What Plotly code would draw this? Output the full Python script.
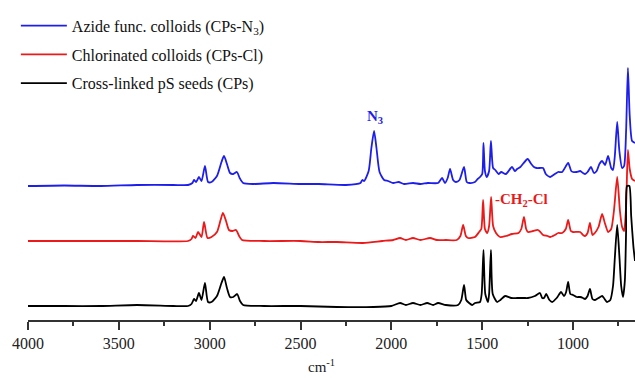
import plotly.graph_objects as go

# ---- data (wavenumber in cm^-1, absorbance in a.u. above own baseline)
blue_wn = [4000, 3800, 3600, 3400, 3200, 3119, 3095, 3086, 3075, 3059, 3045, 3026, 3009, 2990, 2960, 2935, 2921, 2905, 2888, 2870, 2850, 2835, 2816, 2760, 2650, 2500, 2400, 2250, 2170, 2160, 2150, 2125, 2110, 2095, 2082, 2065, 2040, 2018, 1990, 1960, 1930, 1880, 1840, 1800, 1743, 1721, 1705, 1690, 1677, 1660, 1645, 1625, 1600, 1585, 1570, 1540, 1525, 1512, 1500, 1493, 1485, 1475, 1462, 1452, 1440, 1428, 1410, 1395, 1370, 1336, 1320, 1308, 1290, 1250, 1230, 1215, 1200, 1182, 1165, 1150, 1126, 1100, 1082, 1060, 1027, 1010, 1000, 980, 961, 945, 934, 920, 901, 885, 870, 855, 840, 824, 807, 790, 780, 770, 757, 745, 730, 719, 708, 698, 688, 675, 659]
blue_ab = [0.00, 0.005, 0.0, 0.01, 0.01, 0.01, 0.03, 0.06, 0.04, 0.09, 0.05, 0.20, 0.04, 0.04, 0.10, 0.24, 0.30, 0.22, 0.13, 0.12, 0.14, 0.08, 0.03, 0.02, 0.03, 0.02, 0.02, 0.01, 0.03, 0.06, 0.05, 0.15, 0.38, 0.55, 0.38, 0.14, 0.06, 0.05, 0.03, 0.04, 0.02, 0.03, 0.02, 0.03, 0.03, 0.08, 0.03, 0.08, 0.17, 0.06, 0.04, 0.06, 0.19, 0.04, 0.03, 0.04, 0.07, 0.09, 0.12, 0.43, 0.15, 0.09, 0.15, 0.45, 0.18, 0.16, 0.12, 0.14, 0.12, 0.19, 0.15, 0.17, 0.19, 0.27, 0.22, 0.19, 0.18, 0.18, 0.18, 0.12, 0.09, 0.12, 0.14, 0.14, 0.23, 0.15, 0.14, 0.14, 0.15, 0.13, 0.12, 0.14, 0.19, 0.13, 0.15, 0.22, 0.25, 0.21, 0.30, 0.18, 0.16, 0.30, 0.64, 0.35, 0.18, 0.20, 0.55, 1.18, 0.70, 0.45, 0.43]

red_wn = [4000, 3700, 3400, 3119, 3100, 3092, 3078, 3064, 3045, 3031, 3012, 2990, 2960, 2940, 2927, 2910, 2894, 2875, 2855, 2838, 2822, 2700, 2500, 2400, 2300, 2156, 2050, 1990, 1952, 1920, 1881, 1840, 1787, 1750, 1700, 1640, 1620, 1605, 1590, 1578, 1540, 1517, 1505, 1495, 1485, 1473, 1462, 1451, 1440, 1424, 1402, 1370, 1336, 1300, 1285, 1270, 1258, 1248, 1220, 1193, 1180, 1165, 1140, 1126, 1100, 1082, 1060, 1040, 1027, 1012, 1000, 961, 945, 934, 920, 907, 893, 880, 860, 840, 825, 807, 790, 775, 757, 742, 730, 719, 708, 698, 688, 675, 659]
red_ab = [0.0, 0.0, 0.0, 0.0, 0.02, 0.05, 0.03, 0.09, 0.04, 0.19, 0.03, 0.04, 0.09, 0.21, 0.28, 0.20, 0.11, 0.10, 0.11, 0.05, 0.01, 0.0, 0.0, -0.01, -0.01, -0.02, 0.0, 0.01, 0.03, 0.01, 0.03, 0.01, 0.03, 0.01, 0.01, 0.01, 0.05, 0.16, 0.05, 0.03, 0.04, 0.09, 0.12, 0.41, 0.12, 0.08, 0.15, 0.44, 0.15, 0.08, 0.04, 0.05, 0.07, 0.08, 0.12, 0.24, 0.12, 0.09, 0.10, 0.11, 0.09, 0.06, 0.05, 0.04, 0.06, 0.08, 0.08, 0.12, 0.21, 0.10, 0.09, 0.09, 0.06, 0.05, 0.08, 0.18, 0.06, 0.08, 0.14, 0.27, 0.18, 0.09, 0.12, 0.30, 0.64, 0.30, 0.14, 0.10, 0.35, 0.91, 0.72, 0.62, 0.60]

black_wn = [4000, 3800, 3600, 3400, 3200, 3119, 3100, 3086, 3075, 3059, 3045, 3026, 3009, 2990, 2960, 2935, 2921, 2905, 2888, 2870, 2849, 2833, 2816, 2700, 2500, 2300, 2100, 2000, 1952, 1920, 1881, 1840, 1803, 1770, 1743, 1700, 1633, 1615, 1600, 1588, 1572, 1555, 1539, 1512, 1503, 1493, 1483, 1468, 1462, 1452, 1442, 1418, 1400, 1374, 1340, 1308, 1270, 1248, 1210, 1182, 1170, 1160, 1148, 1130, 1115, 1090, 1066, 1050, 1038, 1027, 1015, 1000, 980, 961, 945, 934, 920, 907, 893, 879, 860, 840, 830, 813, 795, 780, 770, 757, 745, 735, 725, 715, 708, 703, 690, 680, 668, 659]
black_ab = [0.0, 0.0, 0.0, 0.01, 0.0, 0.0, 0.02, 0.07, 0.05, 0.13, 0.06, 0.23, 0.04, 0.04, 0.10, 0.23, 0.29, 0.18, 0.09, 0.09, 0.12, 0.05, 0.01, 0.0, 0.0, -0.01, -0.01, 0.0, 0.03, 0.01, 0.03, 0.01, 0.03, 0.01, 0.03, 0.01, 0.01, 0.06, 0.21, 0.06, 0.03, 0.01, 0.03, 0.04, 0.12, 0.56, 0.12, 0.04, 0.12, 0.56, 0.12, 0.04, 0.06, 0.10, 0.08, 0.08, 0.08, 0.08, 0.10, 0.13, 0.08, 0.08, 0.12, 0.06, 0.04, 0.08, 0.14, 0.10, 0.14, 0.24, 0.12, 0.11, 0.09, 0.09, 0.08, 0.07, 0.10, 0.17, 0.07, 0.06, 0.08, 0.10, 0.08, 0.04, 0.06, 0.20, 0.48, 0.81, 0.50, 0.20, 0.09, 0.25, 0.75, 1.20, 1.20, 0.90, 0.60, 0.45]

# vertical offsets of the stacked spectra (a.u.)
offsets = {"black": 0.0, "red": 0.65, "blue": 1.20}

names = ["Azide func. colloids (CPs-N<sub>3</sub>)",
         "Chlorinated colloids (CPs-Cl)",
         "Cross-linked pS seeds (CPs)"]

tick_vals = [4000, 3500, 3000, 2500, 2000, 1500, 1000]
tick_text = ["4000", "3500", "3000", "2500", "2000", "1500", "1000"]
minor_vals = [3750, 3250, 2750, 2250, 1750, 1250, 750]

FONT = '"Liberation Serif", "Times New Roman", serif'

fig = go.Figure()
series = [
    (blue_wn, blue_ab, offsets["blue"], "rgb(30,30,235)", names[0]),
    (red_wn, red_ab, offsets["red"], "rgb(235,25,25)", names[1]),
    (black_wn, black_ab, offsets["black"], "rgb(0,0,0)", names[2]),
]
for i, (wn, ab, off, col, nm) in enumerate(series):
    fig.add_trace(go.Scatter(
        x=wn, y=[a + off for a in ab], mode="lines", name=nm,
        line=dict(color=col, width=1.8, shape="spline", smoothing=0.6),
        legendgroup=f"g{i}",
    ))

fig.add_annotation(x=2090, y=1.89, xref="x", yref="y", text="<b>N<sub>3</sub></b>",
                   showarrow=False, font=dict(family=FONT, size=15, color="rgb(30,30,235)"))
fig.add_annotation(x=1281, y=1.06, xref="x", yref="y", text="<b>-CH<sub>2</sub>-Cl</b>",
                   showarrow=False, font=dict(family=FONT, size=15, color="rgb(235,25,25)"))
fig.add_annotation(x=0.484, y=-0.178, xref="paper", yref="paper", yanchor="bottom",
                   text="cm<sup>-1</sup>", showarrow=False,
                   font=dict(family=FONT, size=15, color="#222"))

fig.update_layout(
    width=635, height=378,
    margin=dict(l=28, r=0, t=0, b=58),
    paper_bgcolor="white", plot_bgcolor="white",
    font=dict(family=FONT, size=16, color="#222"),
    showlegend=True,
    legend=dict(x=-0.02, y=0.973, xanchor="left", yanchor="top",
                bgcolor="rgba(0,0,0,0)", tracegroupgap=5, itemwidth=46,
                font=dict(family=FONT, size=16, color="#111")),
    xaxis=dict(range=[4000, 659], showgrid=False, zeroline=False,
               showline=True, linecolor="#333", linewidth=1.5,
               ticks="outside", ticklen=8, tickwidth=1.5, tickcolor="#333",
               tickvals=tick_vals, ticktext=tick_text,
               minor=dict(tickvals=minor_vals,
                          ticks="outside", ticklen=4, tickwidth=1.5, tickcolor="#333"),
               tickfont=dict(family=FONT, size=16, color="#222")),
    yaxis=dict(range=[-0.14, 3.06], visible=False),
)

fig.write_html("out.html")
